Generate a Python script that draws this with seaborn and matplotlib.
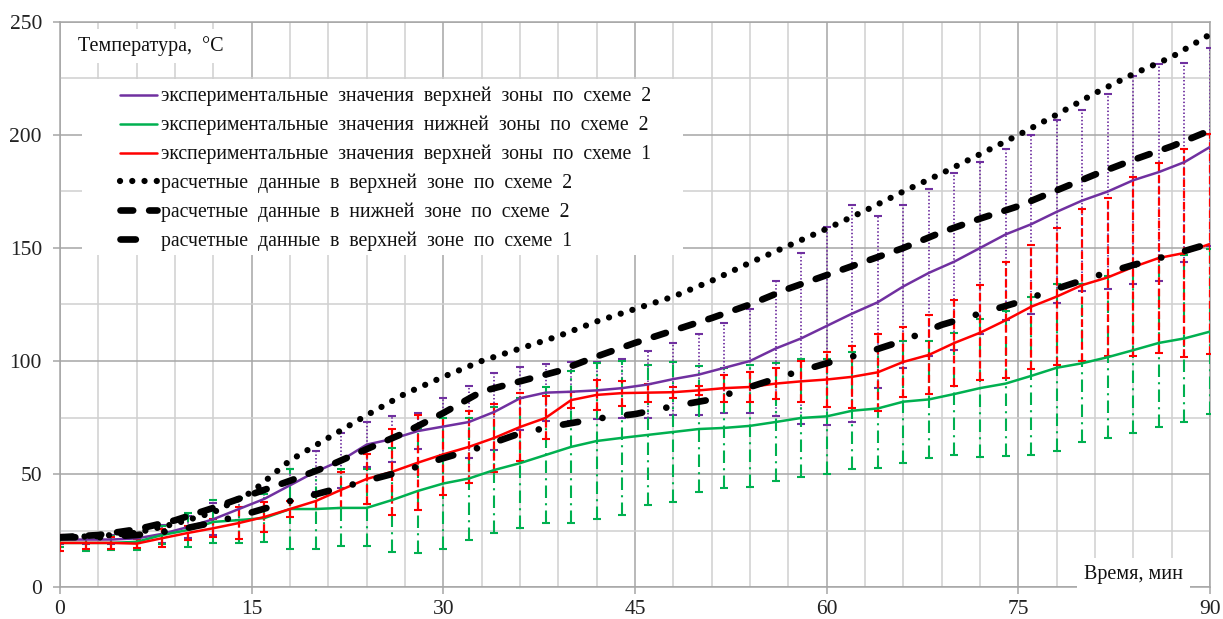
import matplotlib
matplotlib.use("Agg")
import matplotlib.pyplot as plt
from matplotlib.lines import Line2D
from matplotlib.patches import Rectangle
from matplotlib.ticker import MultipleLocator
import pandas as pd
import seaborn as sns

# ---------------- data ----------------
t_exp = [0, 2, 4, 6, 8, 10, 12, 14, 16, 18, 20, 22, 24, 26, 28, 30, 32, 34, 36, 38,
         40, 42, 44, 46, 48, 50, 52, 54, 56, 58, 60, 62, 64, 66, 68, 70, 72, 74, 76,
         78, 80, 82, 84, 86, 88, 90]

upper2_exp = [21, 21, 21, 21.5, 23.5, 26.5, 30, 34.5, 39, 45, 51, 56, 63, 65.5, 69, 71,
              73, 77.5, 83.5, 86, 86.4, 87, 88, 89.6, 92, 94, 97, 100, 105.5, 110, 115.5,
              121, 126, 133, 139, 144, 150, 156, 160.5, 166, 171, 175, 180, 183.6, 188, 194.7]
upper2_err = [2, 2, 2, 2, 4, 5, 7, 5, 5, 7, 9, 12, 10, 10, 8, 12.6, 16, 17, 14, 12.7,
              13, 12.7, 13, 15, 16, 18, 20, 23, 30, 38, 44, 48, 38, 36, 37, 39, 38, 38,
              39.5, 40.5, 40, 43, 46, 48, 44, 44]

lower2_exp = [19.5, 19.5, 19.5, 20, 23, 25.2, 28.8, 29.6, 30.5, 34.5, 34.5, 35, 35, 38.5,
              42.5, 45.8, 48, 51.8, 54.8, 58.4, 62, 64.6, 66, 67.3, 68.6, 69.9, 70.4, 71.3,
              73, 74.8, 75.5, 78, 79, 82, 83, 85.4, 88, 90, 93.4, 97, 99, 101.7, 104.8, 108,
              110, 113]
lower2_err = [2, 3.5, 3, 3.5, 4, 7.5, 9.5, 10, 10.5, 17.5, 17.5, 17, 17, 23, 27.5, 29, 27,
              28, 28.8, 30, 33.5, 34.5, 34, 31, 31, 28, 26.6, 27, 26, 26, 25.5, 26, 26.5, 27,
              26, 27, 30.5, 32, 35, 37, 35, 35.7, 36.8, 37, 37, 36.5]

upper1_exp = [19.5, 19.5, 19.5, 19.2, 21.6, 23.9, 26, 28.3, 31, 34.5, 38, 43, 47.8, 51, 55,
              58.7, 62, 66, 70.8, 74.8, 82.7, 85, 85.8, 86, 86.2, 87, 88, 88.5, 90, 91, 91.8,
              93, 95, 99.6, 102.7, 108, 112.5, 118, 124, 128.5, 133.6, 137, 141.6, 145.6,
              147.8, 151.8]
upper1_err = [3.5, 2.5, 2.5, 2, 4, 3, 4, 7, 6.5, 3.5, 3.6, 8, 11, 19, 21, 18, 16, 15, 15,
              9.5, 3.5, 6.5, 5.5, 4, 2.5, 2, 6, 6.5, 7, 9, 12, 13.6, 17, 15.4, 17.5, 19, 21,
              25.7, 27.5, 30.3, 33.6, 35, 39.6, 42, 46, 48.5]

t_calc = [0, 3, 6, 9, 12, 15, 18, 21, 24, 27, 30, 33, 36, 39, 42, 45, 48, 51, 54, 57, 60,
          63, 66, 69, 72, 75, 78, 81, 84, 87, 90]
upper2_calc = [22, 22.5, 24, 28, 33, 42, 56, 66, 76, 85.5, 93, 100, 105.5, 111, 117.5, 123,
               128.5, 135.5, 143.5, 151, 158.5, 166.5, 175, 183, 191.5, 200, 209, 218.5,
               227, 234.5, 244.5]
lower2_calc = [22, 23, 25.5, 29.5, 35, 41, 47, 53.5, 61, 68.3, 77, 86.5, 91, 95.5, 102, 108,
               113.5, 119, 125, 132, 138, 144, 150, 157, 163, 168.5, 175.5, 182.5, 189, 195,
               202]
upper1_calc = [22, 22, 23, 25, 28.5, 33, 38, 42.5, 47, 51.5, 57, 62, 68, 71.5, 74.5, 76.5,
               80, 83, 88.5, 94, 99, 103.5, 109, 116, 121, 126, 132, 137.5, 142.5, 147, 152]

labels = [
    "экспериментальные  значения  верхней  зоны  по  схеме  2",
    "экспериментальные  значения  нижней  зоны  по  схеме  2",
    "экспериментальные  значения  верхней  зоны  по  схеме  1",
    "расчетные  данные  в  верхней  зоне  по  схеме  2",
    "расчетные  данные  в  нижней  зоне  по  схеме  2",
    "расчетные  данные  в  верхней  зоне  по  схеме  1",
]
y_title = "Температура,  °С"
x_title = "Время, мин"

PURPLE = "#7030A0"
GREEN = "#00B050"
RED = "#FF0000"
BLACK = "#000000"

# ---------------- style ----------------
sns.set_theme(style="white")
plt.rcParams['font.family'] = ['Liberation Serif', 'DejaVu Serif']

W, H = 1223, 619
fig = plt.figure(figsize=(W / 100, H / 100), dpi=100)
ax = fig.add_axes([60 / W, 32 / H, 1150 / W, 565 / H])

df_exp = pd.DataFrame({"t": t_exp, "u2": upper2_exp, "l2": lower2_exp, "u1": upper1_exp})
df_calc = pd.DataFrame({"t": t_calc, "u2": upper2_calc, "l2": lower2_calc, "u1": upper1_calc})


def err(x, y, e, color, ls, lw, z):
    eb = ax.errorbar(x, y, yerr=e, fmt='none', ecolor=color, elinewidth=lw,
                     capsize=2.6, capthick=1.5, zorder=z)
    for lc in eb.lines[2]:
        lc.set_linestyle(ls)


err(t_exp, upper2_exp, upper2_err, PURPLE, (0, (0.8, 1.2)), 1.3, 3.0)
err(t_exp, lower2_exp, lower2_err, GREEN, (0, (6, 2.5, 1, 2.5)), 1.5, 3.1)
err(t_exp, upper1_exp, upper1_err, RED, (0, (3.5, 1.6)), 1.6, 3.2)

sns.lineplot(data=df_exp, x="t", y="u2", color=PURPLE, linewidth=1.8, ax=ax, zorder=4,
             legend=False)
sns.lineplot(data=df_exp, x="t", y="l2", color=GREEN, linewidth=1.8, ax=ax, zorder=4.1,
             legend=False)
sns.lineplot(data=df_exp, x="t", y="u1", color=RED, linewidth=1.8, ax=ax, zorder=4.2,
             legend=False)

DOT = (0, (0.01, 1.95))
DASH = (0, (1.9, 2.4))
DASHDOT = (0, (2.3, 3.7, 0.01, 3.7))
sns.lineplot(data=df_calc, x="t", y="u2", color=BLACK, linewidth=4.5, linestyle=DOT,
             dash_capstyle='round', ax=ax, zorder=5, legend=False)
sns.lineplot(data=df_calc, x="t", y="l2", color=BLACK, linewidth=4.8, linestyle=DASH,
             dash_capstyle='round', ax=ax, zorder=5.1, legend=False)
sns.lineplot(data=df_calc, x="t", y="u1", color=BLACK, linewidth=4.8, linestyle=DASHDOT,
             dash_capstyle='round', ax=ax, zorder=5.2, legend=False)

# ---------------- axes ----------------
ax.set_xlim(0, 90)
ax.set_ylim(0, 250)
ax.xaxis.set_major_locator(MultipleLocator(15))
ax.xaxis.set_minor_locator(MultipleLocator(3))
ax.yaxis.set_major_locator(MultipleLocator(50))
ax.yaxis.set_minor_locator(MultipleLocator(25))
ax.set_axisbelow(True)
ax.grid(which='major', color='#a6a6a6', linewidth=1.1)
ax.grid(which='minor', color='#d0d0d0', linewidth=1.1)
ax.tick_params(axis='both', which='major', length=5, width=1.1, color='#a6a6a6',
               direction='out', labelsize=15.5, labelcolor='#222222',
               left=True, bottom=True)
ax.tick_params(axis='y', which='major', pad=8)
ax.tick_params(axis='x', which='major', pad=4)
ax.tick_params(axis='both', which='minor', length=0)
for s in ax.spines.values():
    s.set_color('#a6a6a6')
    s.set_linewidth(1.1)
ax.set_xlabel("")
ax.set_ylabel("")

# white boxes behind text
ax.add_patch(Rectangle((0.0191, 0.5876), 0.5226, 0.3114, transform=ax.transAxes,
                       facecolor='white', edgecolor='none', zorder=2.5))
fig.text(78 / W, 1 - 46 / H, y_title, fontsize=14.5, color='#111111', ha='left',
         va='center', zorder=6,
         bbox=dict(facecolor='white', edgecolor='none', pad=5))
fig.text(1183 / W, 1 - 574 / H, x_title, fontsize=14.5, color='#111111', ha='right',
         va='center', zorder=6,
         bbox=dict(facecolor='white', edgecolor='none', pad=5))

# legend
handles = [
    Line2D([], [], color=PURPLE, lw=1.8),
    Line2D([], [], color=GREEN, lw=1.8),
    Line2D([], [], color=RED, lw=1.8),
    Line2D([], [], color=BLACK, lw=4.5, linestyle=DOT, dash_capstyle='round'),
    Line2D([], [], color=BLACK, lw=4.8, linestyle=DASH, dash_capstyle='round'),
    Line2D([], [], color=BLACK, lw=4.8, linestyle=DASHDOT, dash_capstyle='round'),
]
leg = ax.legend(handles, labels, loc='upper left',
                bbox_to_anchor=((120 - 60) / 1150, (587 - 87) / 565),
                frameon=False, borderpad=0, borderaxespad=0, fontsize=14.2,
                labelspacing=0.48, handlelength=1.9, handletextpad=0.2)
leg.set_zorder(6)
for txt in leg.get_texts():
    txt.set_color('#111111')

fig.savefig("out.png", dpi=100, facecolor='white')
